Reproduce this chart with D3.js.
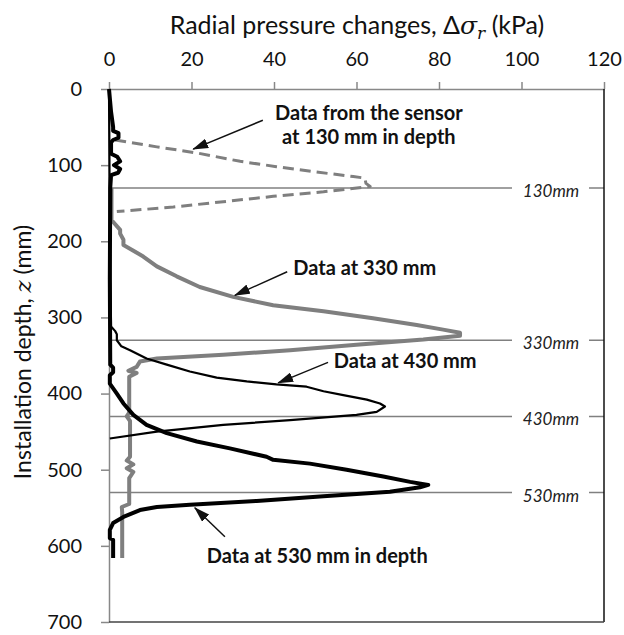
<!DOCTYPE html>
<html>
<head>
<meta charset="utf-8">
<script src="https://cdn.jsdelivr.net/npm/d3@7"></script>
<style>
  body { margin: 0; background: #fff; }
  text { font-family: Lato, "Open Sans", sans-serif; }
</style>
</head>
<body>
<div class="chart"></div>
<script>
// values: [radial pressure change (kPa), depth (mm)]
const xTicks = [0, 20, 40, 60, 80, 100, 120];
const yTicks = [0, 100, 200, 300, 400, 500, 600, 700];
const sensorDepths = [130, 330, 430, 530];

const sensor130 = [
  [1.5, 67], [11.6, 76], [21.3, 84], [31.8, 95], [40.6, 102], [50.3, 109],
  [59.2, 115], [62, 117], [62.3, 124], [63.3, 128], [52, 135], [39.8, 141],
  [27.7, 148], [15.6, 155], [1.9, 161]
];

const sensor330 = [
  [0.6, 130], [0.6, 172], [2.7, 185], [2.7, 190], [3.5, 198], [3.5, 205],
  [5.5, 211], [8.3, 220], [11.6, 233], [16.4, 246], [22, 260], [30.1, 273],
  [39.8, 284], [52, 292], [64, 301], [74.6, 310], [81, 316], [85.1, 320],
  [85.1, 324], [76.2, 329], [60, 336], [43.9, 343], [27.7, 349], [11.6, 354],
  [7.5, 358], [6.7, 365], [4.7, 370], [6.7, 373], [4.9, 378], [4.9, 425],
  [4.3, 430], [5.1, 436], [5.1, 483], [4.3, 488], [5.9, 493], [4.3, 498],
  [5.9, 503], [4.9, 511], [4.9, 545], [3.1, 549], [3.2, 556], [3.2, 616]
];

const sensor430 = [
  [0, 0], [0.2, 200], [0.5, 312], [1.5, 318], [1.9, 322], [1.9, 330],
  [3, 338], [5.1, 343], [9.1, 354], [14, 362], [19.6, 371], [26.1, 379],
  [33.4, 384], [40.6, 388], [47.9, 391], [52, 397], [56.8, 402], [62.5, 408],
  [65.7, 413], [66.9, 417], [64.9, 424], [60, 428], [43.9, 435], [27.7, 441],
  [11.6, 450], [0.2, 459]
];

const sensor530 = [
  [0, 0], [0.5, 30], [1, 50], [1, 55], [2.3, 58], [2.3, 64], [1, 67],
  [0.5, 70], [0.5, 85], [2, 89], [2.7, 95], [1.2, 100], [2.7, 105],
  [2.2, 110], [0.5, 113], [0.3, 130], [0.2, 250], [0.3, 362], [1, 366],
  [1, 372], [0.2, 376], [0.2, 387], [1.9, 400], [3.5, 413], [5.9, 428],
  [9.1, 441], [14, 452], [21.3, 463], [29.3, 472], [38.2, 483], [39.8, 487],
  [48.7, 492], [57.6, 500], [66.5, 509], [73, 516], [77.4, 520], [75.4, 523],
  [68.1, 529], [52, 535], [35.8, 541], [19.6, 546], [11.6, 549], [7.5, 553],
  [3.5, 562], [1, 570], [0.2, 579], [0.2, 590], [1, 592], [1, 616]
];

// annotation text (anchor in data units) and arrows [tail, head]
const notes = [
  { lines: ["Data from the sensor", "at 130 mm in depth"], at: [63, 41] },
  { lines: ["Data at 330 mm"], at: [62, 244] },
  { lines: ["Data at 430 mm"], at: [71.8, 366] },
  { lines: ["Data at 530 mm in depth"], at: [50.5, 622] }
];
const arrows = [
  [[37.3, 41], [20.4, 79]],
  [[43.2, 240], [30.5, 271]],
  [[53.1, 359], [41, 386]],
  [[28.1, 588], [20.8, 550]]
];

const width = 624, height = 635;
const mLeft = 109, mRight = 604, mTop = 89, mBottom = 622;

const svg = d3.select(".chart").append("svg")
  .attr("width", width)
  .attr("height", height);

const x = d3.scaleLinear().domain([0, 120]).range([mLeft, mRight]);
const y = d3.scaleLinear().domain([0, 700]).range([mTop, mBottom]);

// sensor reference lines
const refs = svg.append("g");
refs.selectAll("line")
  .data(sensorDepths)
  .enter()
  .append("line")
  .attr("x1", x(0))
  .attr("x2", x(120))
  .attr("y1", d => y(d))
  .attr("y2", d => y(d))
  .attr("stroke", "#808080")
  .attr("stroke-width", 1.5);

refs.selectAll("rect")
  .data(sensorDepths)
  .enter()
  .append("rect")
  .attr("x", 512)
  .attr("y", d => y(d) - 10)
  .attr("width", 77)
  .attr("height", 22)
  .attr("fill", "#fff");

refs.selectAll("text")
  .data(sensorDepths)
  .enter()
  .append("text")
  .attr("x", 551)
  .attr("y", d => y(d) + 9)
  .attr("text-anchor", "middle")
  .style("font-style", "italic")
  .style("font-size", "17px")
  .attr("fill", "#222")
  .text(d => d + "mm");

// axes
const xAxis = svg.append("g")
  .attr("transform", `translate(0,${mTop})`)
  .call(d3.axisTop(x).tickValues(xTicks).tickSize(7).tickPadding(16).tickSizeOuter(0));

const yAxis = svg.append("g")
  .attr("transform", `translate(${mLeft},0)`)
  .call(d3.axisLeft(y).tickValues(yTicks).tickSize(8).tickPadding(19).tickSizeOuter(0));

[xAxis, yAxis].forEach(a => {
  a.select(".domain").attr("stroke", "#888").attr("stroke-width", 1.5);
  a.selectAll(".tick line").attr("stroke", "#888").attr("stroke-width", 1.5);
  a.selectAll(".tick text")
    .attr("fill", "#111")
    .style("font-family", "Lato, sans-serif")
    .style("font-size", "20px");
});

// frame right and bottom
svg.append("line")
  .attr("x1", x(120)).attr("x2", x(120))
  .attr("y1", y(0)).attr("y2", y(700))
  .attr("stroke", "#111")
  .attr("stroke-width", 1.5);

svg.append("line")
  .attr("x1", x(0)).attr("x2", x(120))
  .attr("y1", y(700)).attr("y2", y(700))
  .attr("stroke", "#444")
  .attr("stroke-width", 1.5);

// data curves
const line = d3.line()
  .x(d => x(d[0]))
  .y(d => y(d[1]));

const curves = [
  { data: sensor130, color: "#7f7f7f", w: 3, dash: "11,6" },
  { data: sensor330, color: "#7f7f7f", w: 4, dash: null },
  { data: sensor430, color: "#000", w: 2.2, dash: null },
  { data: sensor530, color: "#000", w: 4, dash: null }
];

svg.append("g")
  .selectAll("path")
  .data(curves)
  .enter()
  .append("path")
  .attr("d", d => line(d.data))
  .attr("fill", "none")
  .attr("stroke", d => d.color)
  .attr("stroke-width", d => d.w)
  .attr("stroke-dasharray", d => d.dash)
  .attr("stroke-linejoin", "round");

// arrows
svg.append("defs")
  .append("marker")
  .attr("id", "head")
  .attr("markerUnits", "userSpaceOnUse")
  .attr("markerWidth", 16)
  .attr("markerHeight", 10)
  .attr("refX", 15)
  .attr("refY", 5)
  .attr("orient", "auto")
  .append("path")
  .attr("d", "M0,0L16,5L0,10Z")
  .attr("fill", "#111");

svg.append("g")
  .selectAll("line")
  .data(arrows)
  .enter()
  .append("line")
  .attr("x1", d => x(d[0][0]))
  .attr("y1", d => y(d[0][1]))
  .attr("x2", d => x(d[1][0]))
  .attr("y2", d => y(d[1][1]))
  .attr("stroke", "#111")
  .attr("stroke-width", 1.5)
  .attr("marker-end", "url(#head)");

// annotation text
const noteText = svg.append("g")
  .selectAll("text")
  .data(notes)
  .enter()
  .append("text")
  .attr("text-anchor", "middle")
  .attr("fill", "#111")
  .style("font-weight", "bold")
  .style("font-size", "20px");

noteText.selectAll("tspan")
  .data(d => d.lines.map((t, i) => ({ t, i, at: d.at })))
  .enter()
  .append("tspan")
  .attr("x", d => x(d.at[0]))
  .attr("y", d => y(d.at[1]) + d.i * 24)
  .text(d => d.t);

// axis titles
const title = svg.append("text")
  .attr("x", 357)
  .attr("y", 34)
  .attr("text-anchor", "middle")
  .attr("fill", "#111")
  .style("font-size", "25px");
title.append("tspan").text("Radial pressure changes, Δ");
title.append("tspan").style("font-family", "'DejaVu Serif', serif").style("font-style", "italic").text("σ");
title.append("tspan").style("font-family", "'DejaVu Serif', serif").style("font-style", "italic")
  .style("font-size", "17px").attr("dy", 5).text("r");
title.append("tspan").attr("dy", -5).text(" (kPa)");

const ytitle = svg.append("text")
  .attr("transform", "translate(31,352) rotate(-90)")
  .attr("text-anchor", "middle")
  .attr("fill", "#111")
  .style("font-size", "23px");
ytitle.append("tspan").text("Installation depth, ");
ytitle.append("tspan").style("font-family", "'DejaVu Serif', serif").style("font-style", "italic").text("z");
ytitle.append("tspan").text(" (mm)");
</script>
</body>
</html>
